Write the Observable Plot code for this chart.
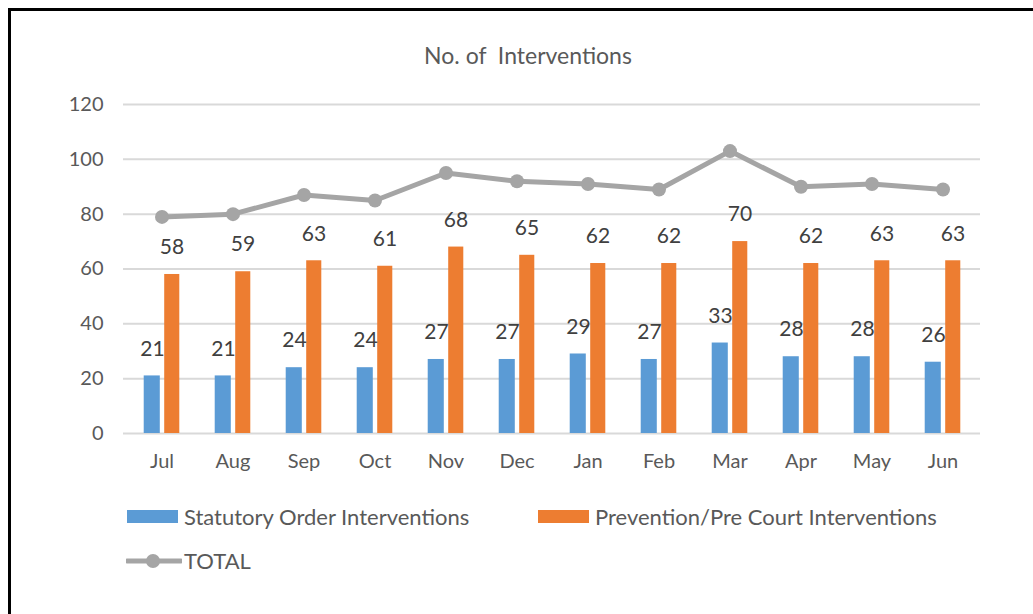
<!DOCTYPE html>
<html>
<head>
<meta charset="utf-8">
<script src="https://cdn.jsdelivr.net/npm/d3@7"></script>
<script src="https://cdn.jsdelivr.net/npm/@observablehq/plot@0.6"></script>
<style>
  html, body { margin: 0; padding: 0; background: #fff; overflow: hidden; }
  #wrap { position: relative; width: 1033px; height: 614px; font-family: Lato, "Open Sans", sans-serif; color: #595959; }
  #frame { position: absolute; left: 8px; top: 8px; width: 1200px; height: 800px; border-left: 3px solid #000; border-top: 3px solid #000; }
  #title { position: absolute; left: 0; width: 1056px; top: 41px; text-align: center; font-size: 23px; white-space: pre; }
  #chart { position: absolute; left: 0; top: 0; }
  .leg { position: absolute; display: flex; align-items: center; font-size: 22px; color: #595959; white-space: nowrap; }
  .sw { width: 51px; height: 13px; margin-right: 6px; }
</style>
</head>
<body>
<div id="wrap">
  <div id="frame"></div>
  <div id="title">No. of  Interventions</div>
  <div id="chart"></div>
  <div id="legend"></div>
</div>
<script>
const months = ["Jul","Aug","Sep","Oct","Nov","Dec","Jan","Feb","Mar","Apr","May","Jun"];
const statutory = [21,21,24,24,27,27,29,27,33,28,28,26];
const prevention = [58,59,63,61,68,65,62,62,70,62,63,63];
const total = [79,80,87,85,95,92,91,89,103,90,91,89];
const yTicks = [0,20,40,60,80,100,120];
const seriesNames = ["Statutory Order Interventions","Prevention/Pre Court Interventions","TOTAL"];
const colors = ["#5b9bd5","#ed7d31","#a5a5a5"];

const rows = months.map((m, i) => ({month: m, statutory: statutory[i], prevention: prevention[i], total: total[i]}));

const bw = (980 - 123) / months.length;
const half = bw / 2;

const chart = Plot.plot({
  width: 1033,
  height: 490,
  marginTop: 104,
  marginBottom: 57,
  marginLeft: 123,
  marginRight: 53,
  style: {fontFamily: "Lato, 'Open Sans', sans-serif", fontSize: "20px", color: "#595959", background: "transparent"},
  x: {type: "band", domain: months, padding: 0, label: null},
  y: {domain: [0, 120], label: null},
  marks: [
    Plot.ruleY(yTicks, {stroke: "#d9d9d9", strokeWidth: 2}),
    Plot.axisY({ticks: yTicks, tickSize: 0, tickPadding: 20, fontSize: 20, fill: "#595959", label: null}),
    Plot.axisX({tickSize: 0, tickPadding: 20, fontSize: 20, fill: "#595959", label: null}),
    Plot.barY(rows, {x: "month", y: "statutory", fill: colors[0], insetLeft: half - 18, insetRight: half + 1.5}),
    Plot.barY(rows, {x: "month", y: "prevention", fill: colors[1], insetLeft: half + 2.5, insetRight: half - 18}),
    Plot.lineY(rows, {x: "month", y: "total", stroke: colors[2], strokeWidth: 5}),
    Plot.dot(rows, {x: "month", y: "total", fill: colors[2], r: 7}),
    Plot.text(rows, {x: "month", y: "statutory", text: d => String(d.statutory), dx: -9.5, dy: -27, fill: "#404040", fontSize: 21}),
    Plot.text(rows, {x: "month", y: "prevention", text: d => String(d.prevention), dx: 10, dy: -27, fill: "#404040", fontSize: 21})
  ]
});
document.getElementById("chart").appendChild(chart);

// legend
const legend = document.getElementById("legend");
function addSwatch(x, y, color, name) {
  const d = document.createElement("div");
  d.className = "leg";
  d.style.left = x + "px"; d.style.top = y + "px";
  const s = document.createElement("div");
  s.className = "sw"; s.style.background = color;
  d.appendChild(s);
  d.appendChild(document.createTextNode(name));
  legend.appendChild(d);
}
addSwatch(127, 503, colors[0], seriesNames[0]);
addSwatch(538, 503, colors[1], seriesNames[1]);
const l = document.createElement("div");
l.className = "leg";
l.style.left = "126px"; l.style.top = "547px";
l.innerHTML = `<svg width="56" height="26" style="margin-right:2px"><line x1="1" y1="13" x2="55" y2="13" stroke="${colors[2]}" stroke-width="5" stroke-linecap="round"/><circle cx="27" cy="13" r="7" fill="${colors[2]}"/></svg>`;
l.appendChild(document.createTextNode(seriesNames[2]));
legend.appendChild(l);
</script>
</body>
</html>
